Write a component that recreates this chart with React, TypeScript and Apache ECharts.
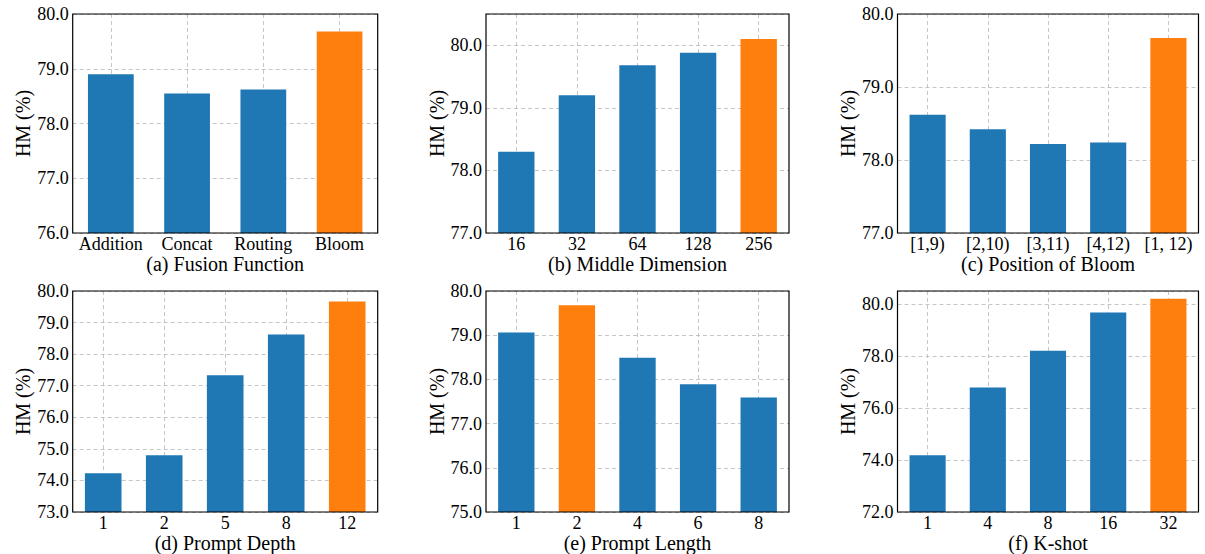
import React, { useEffect, useRef } from "react";
import * as echarts from "echarts";

// ---- data ----
const fusionCats = ["Addition", "Concat", "Routing", "Bloom"];
const fusionVals = [78.9, 78.55, 78.62, 79.68];

const middleCats = ["16", "32", "64", "128", "256"];
const middleVals = [78.3, 79.2, 79.68, 79.88, 80.1];

const positionCats = ["[1,9)", "[2,10)", "[3,11)", "[4,12)", "[1, 12)"];
const positionVals = [78.62, 78.42, 78.22, 78.24, 79.67];

const depthCats = ["1", "2", "5", "8", "12"];
const depthVals = [74.23, 74.8, 77.33, 78.62, 79.67];

const lengthCats = ["1", "2", "4", "6", "8"];
const lengthVals = [79.06, 79.68, 78.49, 77.89, 77.59];

const shotCats = ["1", "4", "8", "16", "32"];
const shotVals = [74.18, 76.79, 78.2, 79.67, 80.2];

const captions = [
  "(a) Fusion Function",
  "(b) Middle Dimension",
  "(c) Position of Bloom",
  "(d) Prompt Depth",
  "(e) Prompt Length",
  "(f) K-shot",
];
const highlightIndex = [3, 4, 4, 4, 1, 4];
const yMins = [76, 77, 77, 73, 75, 72];
const yMaxs = [80, 80.5, 80, 80, 80, 80.5];
const ySteps = [1, 1, 1, 1, 1, 2];

const allCats = [fusionCats, middleCats, positionCats, depthCats, lengthCats, shotCats];
const allVals = [fusionVals, middleVals, positionVals, depthVals, lengthVals, shotVals];

// ---- styles / layout ----
const BLUE = "#1f77b4";
const ORANGE = "#ff7f0e";
const FONT = "'Liberation Serif', 'Times New Roman', serif";
const colLeft = [72.7, 486, 897.5];
const colWidth = [305, 303, 301];
const rowTop = [14, 291];
const rowHeight = [219, 221];
const yNameGaps = [36, 30, 33, 37, 37, 37];

export default function App() {
  const ref = useRef<HTMLDivElement>(null);

  useEffect(() => {
    if (!ref.current) return;
    const chart = echarts.init(ref.current, null, { renderer: "svg" });

    const grids: any[] = [];
    const xAxes: any[] = [];
    const yAxes: any[] = [];
    const series: any[] = [];

    for (let i = 0; i < 6; i++) {
      const r = Math.floor(i / 3);
      const c = i % 3;
      grids.push({
        left: colLeft[c],
        top: rowTop[r],
        width: colWidth[c],
        height: rowHeight[r],
        show: true,
        z: 10,
        borderColor: "#000",
        borderWidth: 1.2,
        backgroundColor: "transparent",
      });
      xAxes.push({
        type: "category",
        gridIndex: i,
        data: allCats[i],
        name: captions[i],
        nameLocation: "middle",
        nameGap: 17,
        nameTextStyle: { fontFamily: FONT, fontSize: 20, color: "#000" },
        axisLine: { show: false },
        axisTick: { show: false },
        axisLabel: {
          interval: 0,
          margin: 2,
          fontFamily: FONT,
          fontSize: 18,
          color: "#000",
        },
        splitLine: {
          show: true,
          interval: 0,
          alignWithLabel: true,
          lineStyle: { color: "#b8b8b8", width: 0.8, type: [4, 3] },
        },
      });
      const step = ySteps[i];
      yAxes.push({
        type: "value",
        gridIndex: i,
        min: yMins[i],
        max: yMaxs[i],
        interval: step,
        name: "HM (%)",
        nameLocation: "middle",
        nameGap: yNameGaps[i],
        nameRotate: 90,
        nameTextStyle: { fontFamily: FONT, fontSize: 20, color: "#000" },
        axisLine: { show: false },
        axisTick: { show: false },
        axisLabel: {
          margin: 4,
          fontFamily: FONT,
          fontSize: 18,
          color: "#000",
          formatter: (v: number) =>
            Math.abs(v / step - Math.round(v / step)) < 1e-6 ? v.toFixed(1) : "",
        },
        splitLine: {
          show: true,
          lineStyle: { color: "#b8b8b8", width: 0.8, type: [4, 3] },
        },
      });
      series.push({
        type: "bar",
        xAxisIndex: i,
        yAxisIndex: i,
        barWidth: "60%",
        z: 3,
        data: allVals[i].map((v, k) => ({
          value: v,
          itemStyle: { color: k === highlightIndex[i] ? ORANGE : BLUE },
        })),
      });
    }

    chart.setOption({
      animation: false,
      backgroundColor: "#fff",
      grid: grids,
      xAxis: xAxes,
      yAxis: yAxes,
      series,
    });

    return () => chart.dispose();
  }, []);

  return (
    <div
      ref={ref}
      style={{ position: "fixed", left: 0, top: 0, width: 1205, height: 554, background: "#fff" }}
    />
  );
}
